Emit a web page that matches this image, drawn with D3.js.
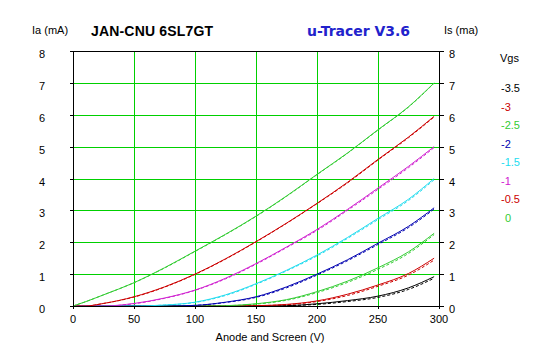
<!DOCTYPE html>
<html><head><meta charset="utf-8">
<script src="https://cdn.jsdelivr.net/npm/d3@7/dist/d3.min.js"></script>
<style>
html,body{margin:0;padding:0;background:#fff;}
svg{display:block;}
text{font-family:"Liberation Sans",Arial,sans-serif;}
</style></head>
<body>
<script>
// ---- data ----
const voltages = [0, 10, 25, 50, 75, 100, 125, 150, 175, 200, 225, 250, 275, 296];
const vgsLabels = ["-3.5", "-3", "-2.5", "-2", "-1.5", "-1", "-0.5", "0"];
// Anode current Ia (mA), solid lines
const iaM35 = [0,0,0,0,0,0,0,0,0.01,0.07,0.17,0.31,0.57,0.92];
const iaM30 = [0,0,0,0,0,0,0,0.01,0.05,0.16,0.37,0.66,1.02,1.50];
const iaM25 = [0,0,0,0,0,0,0.01,0.07,0.20,0.45,0.78,1.20,1.70,2.28];
const iaM20 = [0,0,0,0,0,0.02,0.12,0.29,0.60,1.00,1.45,1.97,2.50,3.08];
const iaM15 = [0,0,0,0,0.03,0.12,0.35,0.70,1.12,1.60,2.15,2.75,3.35,4.00];
const iaM10 = [0,0,0,0.08,0.25,0.50,0.87,1.33,1.85,2.40,3.03,3.70,4.38,5.00];
const iaM05 = [0,0,0.08,0.29,0.60,1.00,1.48,2.02,2.60,3.22,3.88,4.60,5.30,5.95];
const ia00  = [0,0.13,0.35,0.73,1.20,1.72,2.25,2.82,3.45,4.13,4.80,5.53,6.25,7.00];
// Screen current Is (mA), dashed lines
const isM35 = [0,0,0,0,0,0,0,0,0.01,0.05,0.14,0.27,0.52,0.87];
const isM30 = [0,0,0,0,0,0,0,0.01,0.04,0.14,0.33,0.62,0.97,1.44];
const isM25 = [0,0,0,0,0,0,0.01,0.06,0.18,0.42,0.74,1.15,1.65,2.24];
const isM20 = [0,0,0,0,0,0.02,0.11,0.27,0.57,0.97,1.42,1.93,2.46,3.04];
const isM15 = [0,0,0,0,0.03,0.11,0.33,0.68,1.10,1.57,2.12,2.71,3.31,3.96];
const isM10 = [0,0,0,0.07,0.24,0.49,0.85,1.31,1.83,2.37,3.00,3.66,4.34,4.97];
const isM05 = [0,0,0.08,0.28,0.59,0.99,1.47,2.01,2.59,3.21,3.86,4.58,5.28,5.93];
const is00  = [0,0.13,0.35,0.73,1.19,1.71,2.24,2.81,3.44,4.12,4.79,5.52,6.24,6.99];
const xTicks = [0, 50, 100, 150, 200, 250, 300];
const yTicks = [0, 1, 2, 3, 4, 5, 6, 7, 8];

const iaSeries = [iaM35, iaM30, iaM25, iaM20, iaM15, iaM10, iaM05, ia00];
const isSeries = [isM35, isM30, isM25, isM20, isM15, isM10, isM05, is00];
const colors = ["#000000", "#cc0000", "#33cc33", "#0000b0", "#22dcef", "#d020d0", "#cc0000", "#33cc33"];

// ---- chart ----
const W = 547, H = 357;
const svg = d3.select("body").append("svg").attr("width", W).attr("height", H);
const x = d3.scaleLinear().domain([0, 300]).range([73, 439]);
const y = d3.scaleLinear().domain([0, 8]).range([306, 51]);

// grid
const grid = svg.append("g").attr("stroke", "#00d000").attr("stroke-width", 1).attr("shape-rendering", "crispEdges");
xTicks.slice(1, -1).forEach(v => grid.append("line").attr("x1", Math.round(x(v)) + 0.5).attr("x2", Math.round(x(v)) + 0.5).attr("y1", y(8)).attr("y2", y(0)));
yTicks.slice(1, -1).forEach(v => grid.append("line").attr("y1", Math.round(y(v)) + 0.5).attr("y2", Math.round(y(v)) + 0.5).attr("x1", x(0)).attr("x2", x(300)));

// curves
const line = d3.line().x((d, i) => x(voltages[i])).y(d => y(d)).curve(d3.curveMonotoneX);
const curves = svg.append("g").attr("fill", "none").attr("stroke-width", 1);
iaSeries.forEach((s, k) => curves.append("path").attr("d", line(s)).attr("stroke", colors[k]));
isSeries.forEach((s, k) => curves.append("path").attr("d", line(s)).attr("stroke", colors[k]).attr("stroke-dasharray", "3,2"));

// axes
const axL = svg.append("g").attr("transform", `translate(${x(0)},0)`).call(d3.axisLeft(y).tickValues(yTicks).tickSize(3).tickFormat(""));
const axR = svg.append("g").attr("transform", `translate(${x(300)},0)`).call(d3.axisRight(y).tickValues(yTicks).tickSize(5).tickFormat(""));
const axB = svg.append("g").attr("transform", `translate(0,${y(0)})`).call(d3.axisBottom(x).tickValues(xTicks).tickSize(3).tickFormat(""));
const axT = svg.append("g").attr("transform", `translate(0,${y(8)})`).call(d3.axisTop(x).tickValues([]).tickSize(0));
[axL, axR, axB, axT].forEach(a => { a.selectAll("path,line").attr("stroke", "#000").attr("shape-rendering", "crispEdges"); });

// tick labels
const lab = svg.append("g").attr("font-size", 11).attr("fill", "#000");
yTicks.forEach(v => {
  lab.append("text").attr("x", 42).attr("y", y(v) + 7).attr("text-anchor", "middle").text(v);
  lab.append("text").attr("x", 452).attr("y", y(v) + 7).attr("text-anchor", "middle").text(v);
});
xTicks.forEach(v => lab.append("text").attr("x", x(v)).attr("y", 323).attr("text-anchor", "middle").text(v));
lab.append("text").attr("x", 270).attr("y", 341).attr("text-anchor", "middle").text("Anode and Screen (V)");
lab.append("text").attr("x", 32).attr("y", 34).text("Ia (mA)");
lab.append("text").attr("x", 444).attr("y", 34).text("Is (ma)");

// titles
svg.append("text").attr("x", 91).attr("y", 36).attr("font-size", 14).attr("font-weight", "bold").attr("fill", "#000").attr("textLength", 122).text("JAN-CNU 6SL7GT");
svg.append("text").attr("x", 307).attr("y", 36).attr("font-size", 14).attr("font-weight", "bold")
  .style("font-family", "'DejaVu Sans',sans-serif").attr("fill", "#2222cc").attr("textLength", 103).text("u-Tracer V3.6");

// legend
const leg = svg.append("g").attr("font-size", 11);
leg.append("text").attr("x", 500).attr("y", 62).attr("fill", "#000").text("Vgs");
vgsLabels.forEach((t, k) => leg.append("text").attr("x", t === "0" ? 505 : 501).attr("y", 92 + k * 18.5).attr("fill", colors[k]).text(t));
</script>
</body></html>
